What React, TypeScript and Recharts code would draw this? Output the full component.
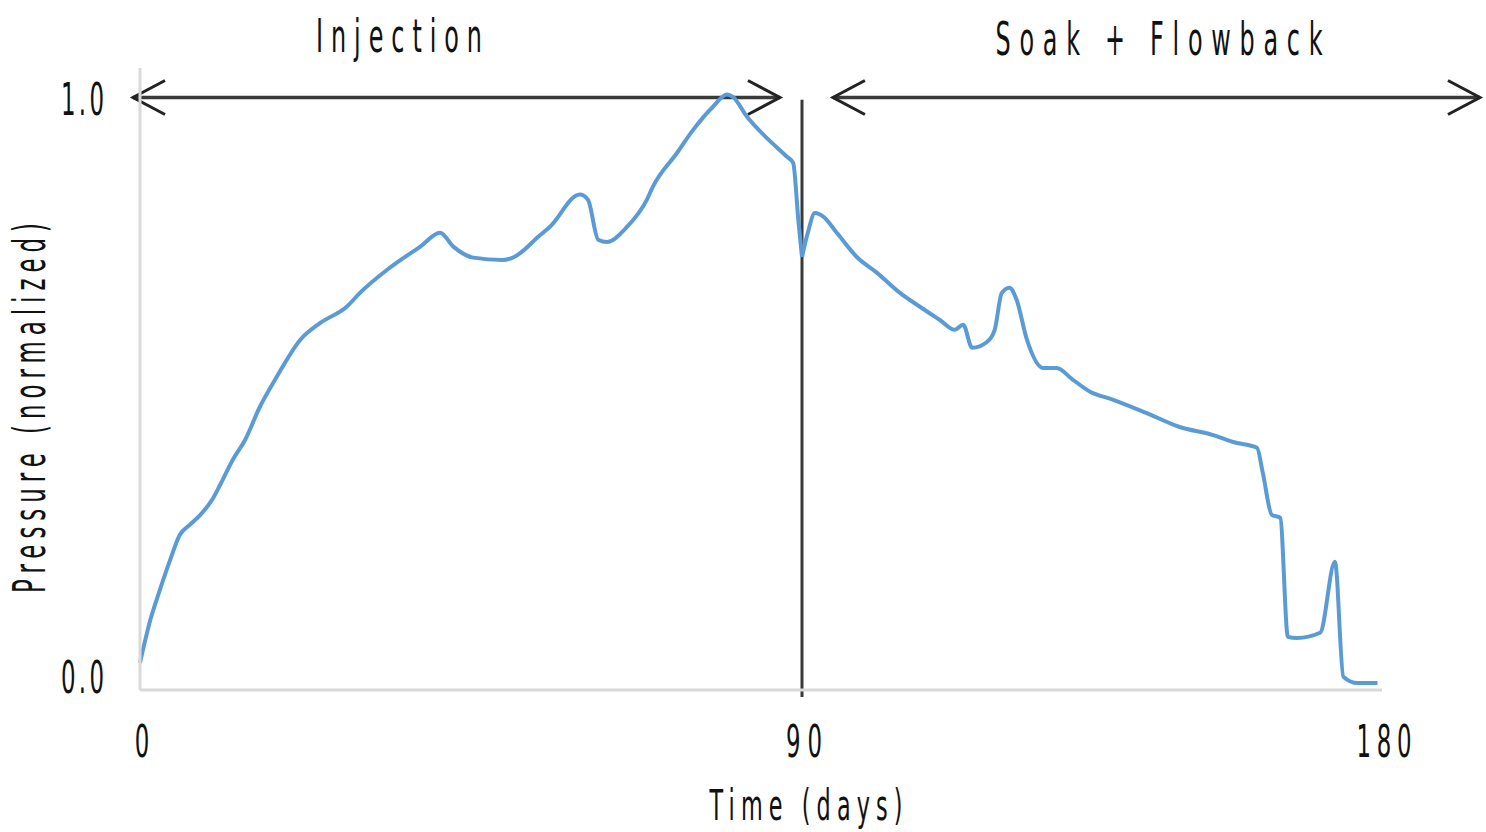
import React from 'react';
import { LineChart, Line, XAxis, YAxis, ReferenceLine } from 'recharts';

// injection phase, day 0 -> 90
const injectionDays = [
  0, 1.4, 2.7, 4.1, 5.4, 6.8, 8.2, 9.8, 10.9, 12.6, 14.3, 16.3, 18.6, 21.8, 24.5, 28.1,
  29.9, 33.6, 38.1, 40.8, 42.6, 45.3, 49.3, 50.7, 54.4, 55.7, 59.8, 60.9, 62.3, 63.5,
  66.2, 68.9, 69.7, 73.0, 75.2, 77.9, 79.8, 80.6, 82.5, 85.2, 88.0, 88.8, 89.5, 90,
];
const injectionPressure = [
  0.026, 0.1, 0.152, 0.204, 0.247, 0.265, 0.282, 0.308, 0.334, 0.377, 0.412, 0.469, 0.521,
  0.585, 0.614, 0.642, 0.666, 0.706, 0.746, 0.77, 0.746, 0.727, 0.723, 0.727, 0.766, 0.78,
  0.836, 0.827, 0.758, 0.754, 0.78, 0.827, 0.849, 0.908, 0.948, 0.988, 1.009, 1.005, 0.971,
  0.934, 0.901, 0.891, 0.792, 0.728,
];

// soak + flowback phase, day 90 -> 180
const soakDays = [
  90, 90.9, 92.0, 93.3, 95.4, 98.5, 101.6, 105.2, 108.3, 111.4, 113.7, 115.0, 116.4, 118.7,
  119.9, 121.0, 122.2, 123.3, 124.9, 127.4, 129.5, 132.0, 134.7, 138.3, 143.5, 148.6, 153.8,
  156.9, 160.6, 161.5, 162.9, 164.2, 165.4, 166.8, 170.4, 172.7, 174.0, 176.2, 179.3,
];
const soakPressure = [
  0.728, 0.77, 0.804, 0.798, 0.77, 0.728, 0.701, 0.666, 0.642, 0.619, 0.602, 0.611, 0.571,
  0.581, 0.602, 0.666, 0.675, 0.654, 0.585, 0.536, 0.536, 0.516, 0.495, 0.481, 0.458, 0.434,
  0.42, 0.408, 0.398, 0.355, 0.282, 0.277, 0.071, 0.069, 0.078, 0.201, 0.002, -0.009, -0.009,
];

const yTicks = [0, 1];
const injectionTicks = [0];
const soakTicks = [90, 180];
const phaseNames = ['Injection', 'Soak + Flowback'];
// arrow extents in days, and the level they sit at
const injectionSpan = [-0.95, 87.0];
const soakSpan = [94.8, 195.2];
const arrowLevel = 1.004;
const yDomain = [-0.021, 1.055];

const injectionData = injectionDays.map((d, i) => ({ day: d, pressure: injectionPressure[i] }));
const soakData = soakDays.map((d, i) => ({ day: d, pressure: soakPressure[i] }));

const FONT = '"DejaVu Sans", Verdana, sans-serif';
const BLUE = '#5b9bd5';
const AXIS_GRAY = '#d9d9d9';
const DARK = '#3a3a3a';
const SQUEEZE = 0.52;

const NarrowText = ({ x, y, anchor = 'middle', size = 44, rotate = 0, length, spacing = 0, children }: any) => (
  <text
    transform={`translate(${x},${y}) rotate(${rotate}) scale(${SQUEEZE},1)`}
    textAnchor={anchor}
    fontFamily={FONT}
    fontSize={size}
    fill="#111"
    letterSpacing={spacing}
    textLength={length ? length / SQUEEZE : undefined}
    lengthAdjust={length ? 'spacing' : undefined}
  >
    {children}
  </text>
);

const XTick = ({ x, y, payload }: any) => {
  const s = String(payload.value);
  return (
    <NarrowText x={x + 2} y={y + 67} length={s.length * 17 + (s.length - 1) * 2}>
      {s}
    </NarrowText>
  );
};

const YTick = ({ x, y, payload }: any) => (
  <NarrowText x={x - 36} y={y + 15} anchor="end" length={43}>
    {Number(payload.value).toFixed(1)}
  </NarrowText>
);

const DoubleArrow = (p: any) => {
  const { x1, y1, x2, y2 } = p;
  const head = 32;
  const wing = 17;
  return (
    <g>
      <line x1={x1} y1={y1} x2={x2} y2={y2} stroke={DARK} strokeWidth={3.5} />
      <polyline
        points={`${x1 + head},${y1 - wing} ${x1},${y1} ${x1 + head},${y1 + wing}`}
        fill="none"
        stroke="#222"
        strokeWidth={3}
      />
      <polyline
        points={`${x2 - head},${y2 - wing} ${x2},${y2} ${x2 - head},${y2 + wing}`}
        fill="none"
        stroke="#222"
        strokeWidth={3}
      />
    </g>
  );
};

const PhaseLine = (p: any) => (
  <line x1={p.x1} y1={p.y1} x2={p.x2} y2={p.y2} stroke={DARK} strokeWidth={3} />
);

export default function App() {
  return (
    <div style={{ position: 'absolute', left: 0, top: 0, width: 1486, height: 832, background: '#fff', overflow: 'hidden' }}>
      <div style={{ position: 'absolute', left: 0, top: 0 }}>
        <LineChart width={822} height={832} data={injectionData} margin={{ top: 68, right: 20, bottom: 82, left: 80 }}>
          <XAxis
            dataKey="day"
            type="number"
            domain={[0, 90]}
            ticks={injectionTicks}
            interval={0}
            height={60}
            tickSize={0}
            tickMargin={0}
            tickLine={false}
            axisLine={{ stroke: AXIS_GRAY, strokeWidth: 3 }}
            tick={<XTick />}
          />
          <YAxis
            type="number"
            domain={yDomain}
            ticks={yTicks}
            interval={0}
            width={60}
            tickSize={0}
            tickMargin={0}
            tickLine={false}
            axisLine={{ stroke: AXIS_GRAY, strokeWidth: 3 }}
            tick={<YTick />}
          />
          <ReferenceLine
            segment={[{ x: injectionSpan[0], y: arrowLevel }, { x: injectionSpan[1], y: arrowLevel }]}
            ifOverflow="visible"
            shape={DoubleArrow}
          />
          <ReferenceLine
            segment={[{ x: 90, y: 1.0 }, { x: 90, y: -0.033 }]}
            ifOverflow="visible"
            shape={PhaseLine}
          />
          <Line
            type="monotone"
            dataKey="pressure"
            stroke={BLUE}
            strokeWidth={4}
            dot={false}
            isAnimationActive={false}
          />
        </LineChart>
      </div>

      <div style={{ position: 'absolute', left: 782, top: 0 }}>
        <LineChart width={704} height={832} data={soakData} margin={{ top: 68, right: 104, bottom: 82, left: 20 }}>
          <XAxis
            dataKey="day"
            type="number"
            domain={[90, 180]}
            ticks={soakTicks}
            interval={0}
            height={60}
            tickSize={0}
            tickMargin={0}
            tickLine={false}
            axisLine={{ stroke: AXIS_GRAY, strokeWidth: 3 }}
            tick={<XTick />}
          />
          <YAxis hide type="number" domain={yDomain} />
          <ReferenceLine
            segment={[{ x: soakSpan[0], y: arrowLevel }, { x: soakSpan[1], y: arrowLevel }]}
            ifOverflow="visible"
            shape={DoubleArrow}
          />
          <Line
            type="monotone"
            dataKey="pressure"
            stroke={BLUE}
            strokeWidth={4}
            dot={false}
            isAnimationActive={false}
          />
        </LineChart>
      </div>

      <svg width={1486} height={832} style={{ position: 'absolute', left: 0, top: 0, pointerEvents: 'none' }}>
        <NarrowText x={399} y={52} size={46} length={166}>{phaseNames[0]}</NarrowText>
        <NarrowText x={1159} y={55} size={46} length={327}>{phaseNames[1]}</NarrowText>
        <NarrowText x={806} y={820} size={43} length={193}>Time (days)</NarrowText>
        <NarrowText x={45} y={408} rotate={-90} length={370}>Pressure (normalized)</NarrowText>
      </svg>
    </div>
  );
}
